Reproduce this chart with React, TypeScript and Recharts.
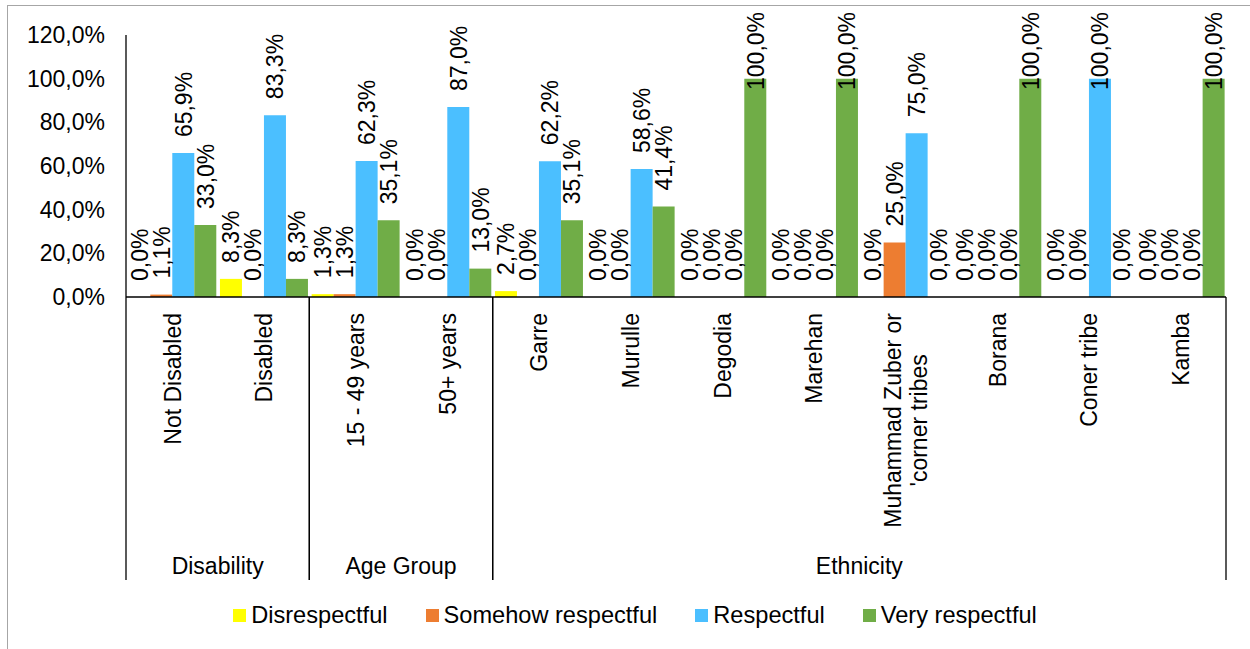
import React from 'react';
import { BarChart, Bar, XAxis, YAxis, Legend, LabelList } from 'recharts';

const CATEGORIES = [
  'Not Disabled',
  'Disabled',
  '15 - 49 years',
  '50+ years',
  'Garre',
  'Murulle',
  'Degodia',
  'Marehan',
  "Muhammad Zuber or\n'corner tribes",
  'Borana',
  'Coner tribe',
  'Kamba',
];

const GROUP_NAMES = ['Disability', 'Age Group', 'Ethnicity'];
const GROUP_STARTS = [0, 2, 4];
const GROUP_ENDS = [1, 3, 11];

const DISRESPECTFUL = [0.0, 8.3, 1.3, 0.0, 2.7, 0.0, 0.0, 0.0, 0.0, 0.0, 0.0, 0.0];
const SOMEHOW = [1.1, 0.0, 1.3, 0.0, 0.0, 0.0, 0.0, 0.0, 25.0, 0.0, 0.0, 0.0];
const RESPECTFUL = [65.9, 83.3, 62.3, 87.0, 62.2, 58.6, 0.0, 0.0, 75.0, 0.0, 100.0, 0.0];
const VERY_RESPECTFUL = [33.0, 8.3, 35.1, 13.0, 35.1, 41.4, 100.0, 100.0, 0.0, 100.0, 0.0, 100.0];

const SERIES_KEYS = ['disrespectful', 'somehow', 'respectful', 'very'];
const SERIES_NAMES = ['Disrespectful', 'Somehow respectful', 'Respectful', 'Very respectful'];
const SERIES_COLORS = ['#FFFF00', '#ED7D31', '#4BBFFF', '#70AD47'];
const SERIES_VALUES = [DISRESPECTFUL, SOMEHOW, RESPECTFUL, VERY_RESPECTFUL];

const Y_TICKS = [0, 20, 40, 60, 80, 100, 120];

const data = CATEGORIES.map((name, i) => {
  const row: any = { name };
  SERIES_KEYS.forEach((k, s) => {
    row[k] = SERIES_VALUES[s][i];
  });
  return row;
});

const FONT = '"Liberation Sans", Arial, sans-serif';
const FS = 23;
const CHART_W = 1250;
const CHART_H = 649;
const MARGIN = { top: 35, right: 24, bottom: 0, left: 0 };
const Y_AXIS_W = 126;
const PLOT_W = CHART_W - MARGIN.left - MARGIN.right - Y_AXIS_W;

const CW: Record<string, number> = {
  ' ': 0.278, ',': 0.278, '.': 0.278, '%': 0.889, "'": 0.191, '-': 0.333, '+': 0.584,
  a: 0.556, b: 0.556, c: 0.5, d: 0.556, e: 0.556, f: 0.278, g: 0.556, h: 0.556, i: 0.222,
  j: 0.222, k: 0.5, l: 0.222, m: 0.833, n: 0.556, o: 0.556, p: 0.556, q: 0.556, r: 0.333,
  s: 0.5, t: 0.278, u: 0.556, v: 0.5, w: 0.722, x: 0.5, y: 0.5, z: 0.5,
  A: 0.667, B: 0.667, C: 0.722, D: 0.722, E: 0.667, G: 0.778, K: 0.667, M: 0.833, N: 0.722, Z: 0.611,
};
const textWidth = (s: string, fs: number) =>
  s.split('').reduce((acc, ch) => acc + (CW[ch] ?? 0.556), 0) * fs;

const fmt = (v: number) => v.toFixed(1).replace('.', ',') + '%';

const renderValueLabel = (p: any) => {
  const vb = p.viewBox || {};
  const x = p.x ?? vb.x;
  const y = p.y ?? vb.y;
  const width = p.width ?? vb.width;
  const height = p.height ?? vb.height ?? 0;
  const value = Number(p.value);
  const text = fmt(value);
  const len = textWidth(text, FS);
  const cx = x + width / 2;
  const barTop = Math.min(y, y + height);
  let y0 = barTop - 16;
  if (y0 - len < 12) y0 = 12 + len;
  return (
    <text
      transform={`translate(${cx + 0.36 * FS},${y0}) rotate(-90)`}
      textAnchor="start"
      fontSize={FS}
      fill="#000"
      fontFamily={FONT}
    >
      {text}
    </text>
  );
};

const CategoryTick = (props: any) => {
  const { x, y, payload, index } = props;
  const band = PLOT_W / CATEGORIES.length;
  const left = x - band / 2;
  const right = x + band / 2;
  const lines = String(payload.value).split('\n');
  const top = y + 16;
  const lineH = 26;
  const widths = lines.map((l) => textWidth(l, FS));
  const maxW = Math.max(...widths);
  const elems: any[] = [];
  lines.forEach((l, li) => {
    const off = (li - (lines.length - 1) / 2) * lineH;
    const bx = x + 0.38 * FS + off;
    elems.push(
      <text
        key={'l' + li}
        transform={`translate(${bx},${top + maxW / 2}) rotate(-90)`}
        textAnchor="middle"
        fontSize={FS}
        fill="#000"
        fontFamily={FONT}
      >
        {l}
      </text>
    );
  });
  GROUP_STARTS.forEach((gs, g) => {
    const ge = GROUP_ENDS[g];
    if (index === gs) {
      elems.push(<line key={'gl' + g} x1={left} x2={left} y1={y} y2={y + 283} stroke="#000" strokeWidth={1.3} />);
      const gcx = left + ((ge - gs + 1) * band) / 2;
      elems.push(
        <text key={'gt' + g} x={gcx} y={y + 277} textAnchor="middle" fontSize={FS} fill="#000" fontFamily={FONT}>
          {GROUP_NAMES[g]}
        </text>
      );
    }
    if (index === ge) {
      elems.push(<line key={'gr' + g} x1={right} x2={right} y1={y} y2={y + 283} stroke="#000" strokeWidth={1.3} />);
    }
  });
  return <g>{elems}</g>;
};

const LegendContent = () => (
  <div
    style={{
      height: 50,
      display: 'flex',
      justifyContent: 'center',
      alignItems: 'flex-start',
      paddingLeft: 20,
      boxSizing: 'border-box',
      fontFamily: FONT,
      fontSize: 23.6,
      color: '#000',
    }}
  >
    {SERIES_NAMES.map((n, i) => (
      <div
        key={n}
        style={{
          display: 'flex',
          alignItems: 'center',
          height: 32,
          marginRight: i < SERIES_NAMES.length - 1 ? 38 : 0,
          whiteSpace: 'nowrap',
        }}
      >
        <span style={{ width: 13, height: 13, background: SERIES_COLORS[i], marginRight: 5, display: 'inline-block' }} />
        <span>{n}</span>
      </div>
    ))}
  </div>
);

export default function App() {
  return (
    <div
      style={{
        position: 'absolute',
        left: 0,
        top: 0,
        width: CHART_W,
        height: CHART_H,
        overflow: 'hidden',
        background: '#fff',
        fontFamily: FONT,
      }}
    >
      <div
        style={{
          position: 'absolute',
          left: 7,
          top: 5,
          width: CHART_W - 7,
          height: CHART_H - 5,
          borderLeft: '1.5px solid #A6A6A6',
          borderTop: '1.5px solid #A6A6A6',
          boxSizing: 'border-box',
        }}
      />
      <div style={{ position: 'absolute', left: 0, top: 0 }}>
        <BarChart
          width={CHART_W}
          height={CHART_H}
          data={data}
          margin={MARGIN}
          barCategoryGap="2.5%"
          barGap={0}
        >
          <XAxis
            dataKey="name"
            interval={0}
            height={302}
            tickLine={false}
            tickSize={0}
            tickMargin={0}
            axisLine={{ stroke: '#000', strokeWidth: 1.3 }}
            tick={<CategoryTick />}
          />
          <YAxis
            width={Y_AXIS_W}
            domain={[0, 120]}
            ticks={Y_TICKS}
            interval={0}
            tickLine={false}
            tickSize={0}
            tickMargin={21}
            axisLine={{ stroke: '#000', strokeWidth: 1.3 }}
            tickFormatter={fmt}
            tick={{ fill: '#000', fontSize: FS, fontFamily: FONT }}
          />
          <Legend
            verticalAlign="bottom"
            wrapperStyle={{ left: 0, width: CHART_W }}
            content={() => <LegendContent />}
          />
          {SERIES_KEYS.map((k, i) => (
            <Bar
              key={k}
              dataKey={k}
              name={SERIES_NAMES[i]}
              fill={SERIES_COLORS[i]}
              minPointSize={0.01}
              isAnimationActive={false}
            >
              <LabelList dataKey={k} content={renderValueLabel} />
            </Bar>
          ))}
        </BarChart>
      </div>
    </div>
  );
}
